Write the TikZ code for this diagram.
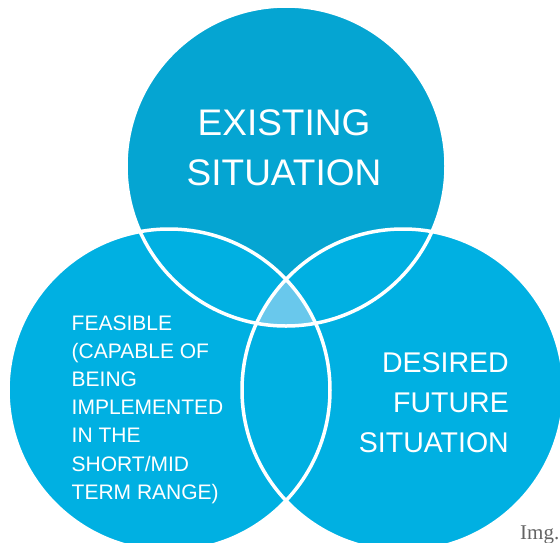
\documentclass[tikz,border=0pt]{standalone}
\usepackage{fontspec}
\setmainfont{Liberation Sans}
\newfontfamily\imgfont{Liberation Serif}
\usetikzlibrary{positioning}
\definecolor{topblue}{RGB}{5, 165, 210}
\definecolor{lowblue}{RGB}{0, 176, 226}
\definecolor{midblue}{RGB}{105, 200, 236}
\definecolor{imggray}{RGB}{100, 100, 100}
\tikzset{
  setline/.style={draw=white, line width=3.5pt},
  venntext/.style={text=white, inner sep=0pt},
}

\begin{document}
\begin{tikzpicture}[x=1pt, y=-1pt]
    \useasboundingbox (0,0) rectangle (560,542);
    \clip (0,0) rectangle (560,542);

    % the three sets
    \coordinate (ctop) at (286,166);
    \coordinate (cleft) at (169,390);
    \coordinate (cright) at (403,390);

    \fill[topblue] (ctop) circle (160pt);
    \fill[lowblue] (cleft) circle (161pt);
    \fill[lowblue] (cright) circle (161pt);

    % common part of all three
    \begin{scope}
        \clip (ctop) circle (160pt);
        \clip (cleft) circle (161pt);
        \fill[midblue] (cright) circle (161pt);
    \end{scope}

    \draw[setline] (ctop) circle (160pt);
    \draw[setline] (cleft) circle (161pt);
    \draw[setline] (cright) circle (161pt);

    % texts
    \node[venntext, anchor=base, font=\fontsize{37}{44}\selectfont] (exist1) at (284,135) {EXISTING};
    \node[venntext, anchor=base, font=\fontsize{37}{44}\selectfont] (exist2) at (284,185) {SITUATION};

    \node[venntext, anchor=base east, font=\fontsize{28.5}{34}\selectfont] (desired1) at (509,372.5) {DESIRED};
    \node[venntext, anchor=base east, font=\fontsize{28.5}{34}\selectfont] (desired2) at (509,412) {FUTURE};
    \node[venntext, anchor=base east, font=\fontsize{28.5}{34}\selectfont] (desired3) at (509,452) {SITUATION};

    \foreach \txt [count=\i] in {{FEASIBLE}, {(CAPABLE OF}, {BEING}, {IMPLEMENTED}, {IN THE}, {SHORT/MID}, {TERM RANGE)}}
        \node[venntext, anchor=base west, font=\fontsize{21}{25}\selectfont] (feas\i) at (71.5,{330+28.2*(\i-1)}) {\txt};

    \node[anchor=base west, inner sep=0pt, text=imggray, font=\imgfont\fontsize{21}{25}\selectfont] (img) at (520,539) {Img.};
\end{tikzpicture}
\end{document}
